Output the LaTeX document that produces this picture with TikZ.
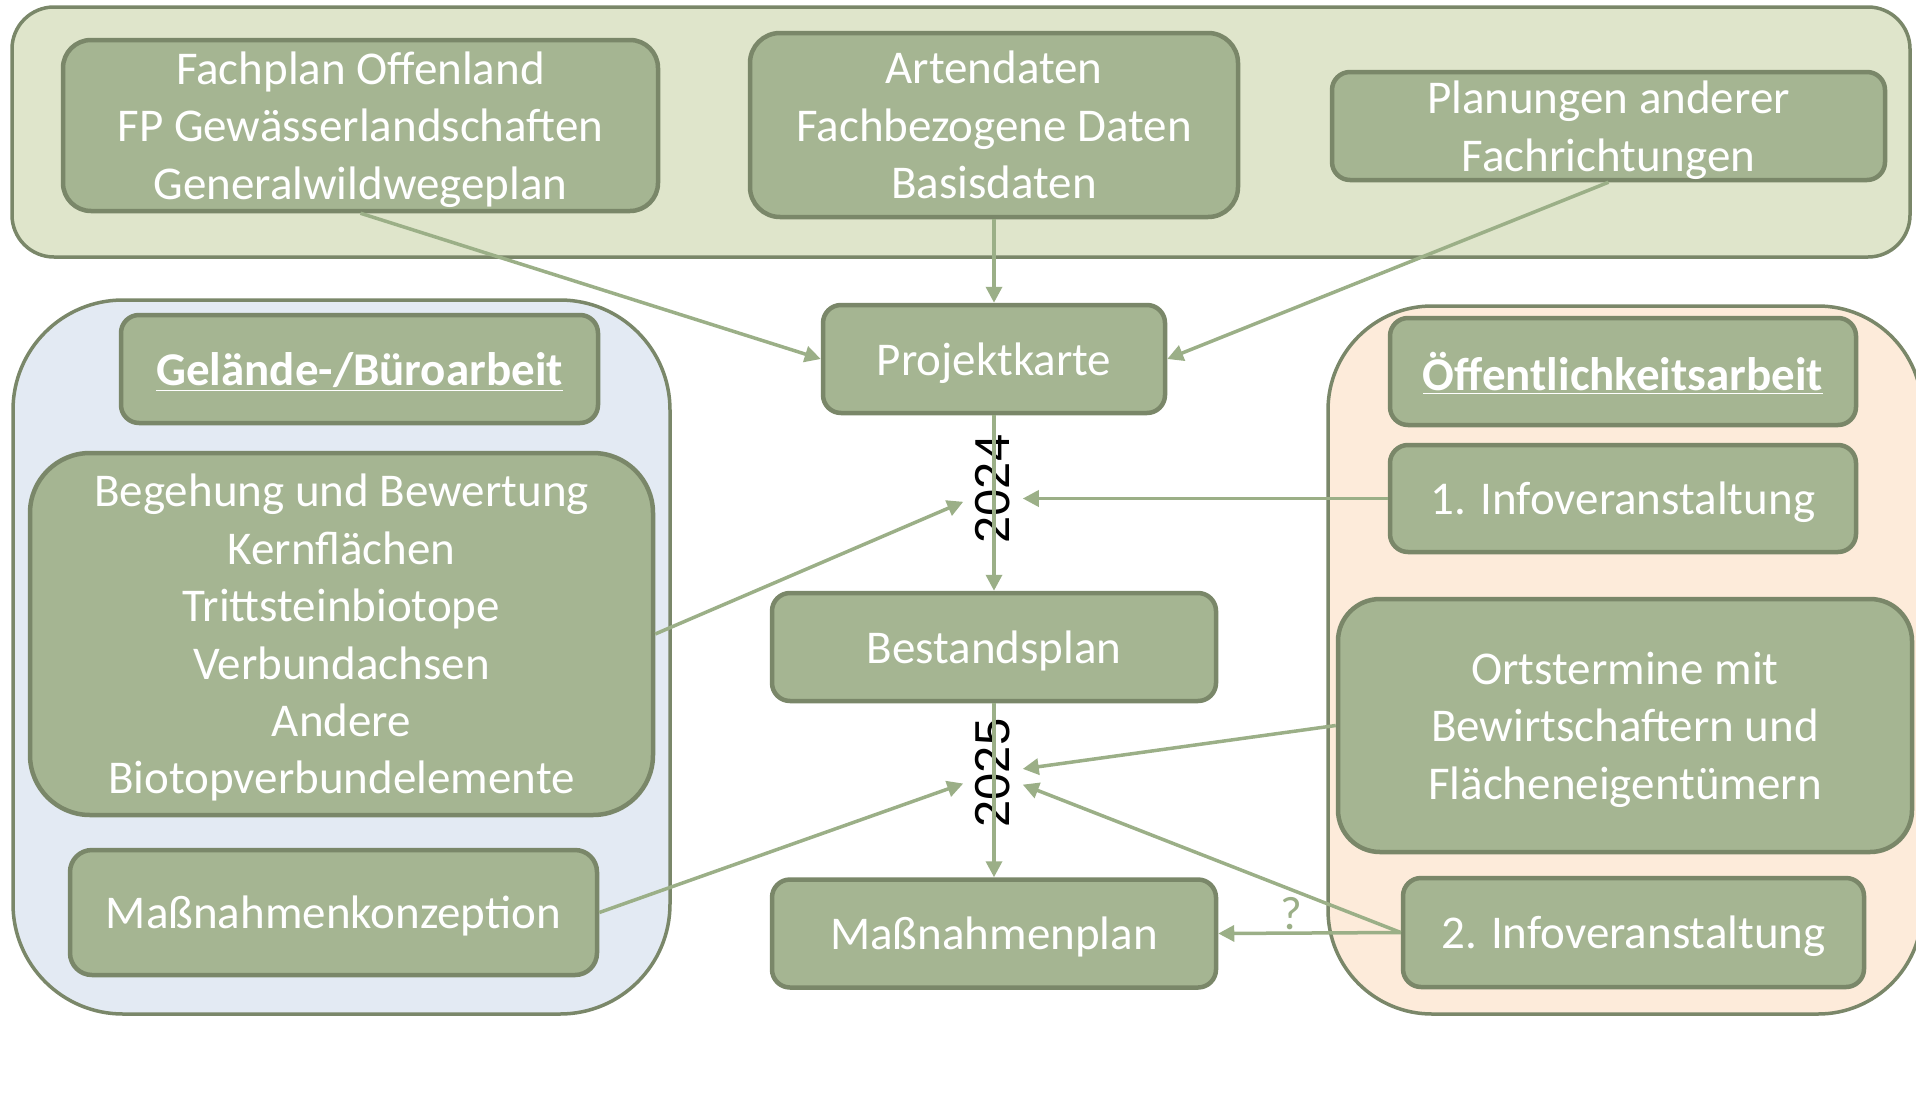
\documentclass[tikz,border=0pt]{standalone}
\usepackage{fontspec}
\setmainfont{Carlito}
\newfontfamily\yearfont{Liberation Sans}
\usetikzlibrary{arrows.meta,positioning,fit}

\definecolor{boxfill}{HTML}{A5B592}
\definecolor{boxline}{HTML}{7A8769}
\definecolor{arrowcol}{HTML}{9BAF87}
\definecolor{topfill}{HTML}{DFE5CB}
\definecolor{leftfill}{HTML}{E3EAF3}
\definecolor{rightfill}{HTML}{FDEBDA}

\newcommand{\boxfont}{\fontsize{23.5}{28.7}\selectfont}

\begin{document}
\begin{tikzpicture}[x=0.5pt, y=-0.5pt, arrow/.style = {line width=1.75pt, draw=arrowcol, -{Triangle[length=8pt,width=8pt]}}]
		\tikzset{box/.style={draw=boxline, fill=boxfill, line width=2.25pt, inner sep=0pt, text=white, align=center, font=\boxfont, text depth=0pt, rounded corners=9pt, minimum height=54pt}}
		\tikzset{group/.style={draw=boxline, line width=1.75pt, inner sep=0pt}}
		\tikzset{year/.style={rotate=90, font=\yearfont\fontsize{24.5}{28}\selectfont, inner sep=6pt}}

		\useasboundingbox (0,0) rectangle (1916,1108);

		% Gruppen
		\node[group, fit={(12,7) (1910,257)}, fill=topfill, rounded corners=21pt] (quellen) {};
		\node[group, fit={(13,300) (670,1014)}, fill=leftfill, rounded corners=55pt] (gelaende) {};
		\node[group, fit={(1328,306) (1922,1014)}, fill=rightfill, rounded corners=52pt] (oeffentl) {};

		% Datengrundlagen
		\node[box, minimum width=297.5pt, minimum height=85.5pt, rounded corners=14pt] (fachplan) at (360.5,125.5) {Fachplan Offenland\\FP Gewässerlandschaften\\Generalwildwegeplan};

		\node[box, minimum width=244pt, minimum height=92pt, rounded corners=15pt] (artendaten) at (994,125) {Artendaten\\Fachbezogene Daten\\Basisdaten};

		\node[box, minimum width=276.5pt] (planungen) at (1608.5,126) {Planungen anderer\\Fachrichtungen};

		% Ablauf
		\node[box, minimum width=171pt] (projektkarte) at (994,359) {Projektkarte};

		\node[box, minimum width=222pt] (bestandsplan) at (994,647) {Bestandsplan};

		\node[box, minimum width=222pt] (massnahmenplan) at (994,933.5) {Maßnahmenplan};

		\node[year] (y2024) at (993,489) {2024};

		\node[year] (y2025) at (993,773) {2025};

		% Gelände-/Büroarbeit
		\node[box, minimum width=238.5pt] (geltitel) at (359.5,369) {\textbf{\underline{Gelände-/Büroarbeit}}};

		\node[box, minimum width=311.5pt, minimum height=181pt, rounded corners=30pt] (begehung) at (341.5,634) {Begehung und Bewertung\\Kernflächen\\Trittsteinbiotope\\Verbundachsen\\Andere\\Biotopverbundelemente};

		\node[box, minimum width=263.5pt, minimum height=62.5pt, rounded corners=11pt] (konzeption) at (333.5,912.5) {Maßnahmenkonzeption};

		% Öffentlichkeitsarbeit
		\node[box, minimum width=233pt, minimum height=53.5pt] (oeftitel) at (1623,371.5) {\textbf{\underline{Öffentlichkeitsarbeit}}};

		\node[box, minimum width=233pt, minimum height=53.5pt] (info1) at (1623,498.5) {1. Infoveranstaltung};

		\node[box, minimum width=287pt, minimum height=126.5pt, rounded corners=21pt] (ortstermine) at (1625,725.5) {Ortstermine mit\\Bewirtschaftern und\\Flächeneigentümern};

		\node[box, minimum width=230.5pt, minimum height=54.5pt] (info2) at (1633.5,932.5) {2. Infoveranstaltung};

		% Pfeile
		\draw[arrow] (fachplan.south) -- (projektkarte.west);
		\draw[arrow] (artendaten.south) -- (projektkarte.north);
		\draw[arrow] (planungen.south) -- (projektkarte.east);
		\draw[arrow] (projektkarte.south) -- (bestandsplan.north);
		\draw[arrow] (bestandsplan.south) -- (massnahmenplan.north);
		\draw[arrow] (info1.west) -- (info1.west -| y2024.south);
		\draw[arrow] (begehung.east) -- (y2024);
		\draw[arrow] (ortstermine.west) -- (y2025);
		\draw[arrow] (info2.west) -- (y2025);
		\draw[arrow] (konzeption.east) -- (y2025);
		\draw[arrow] (info2.west) -- node[pos=0.6, above, text=arrowcol, font=\boxfont, inner sep=1pt] (frage) {?} (massnahmenplan.east);

	\end{tikzpicture}
\end{document}
